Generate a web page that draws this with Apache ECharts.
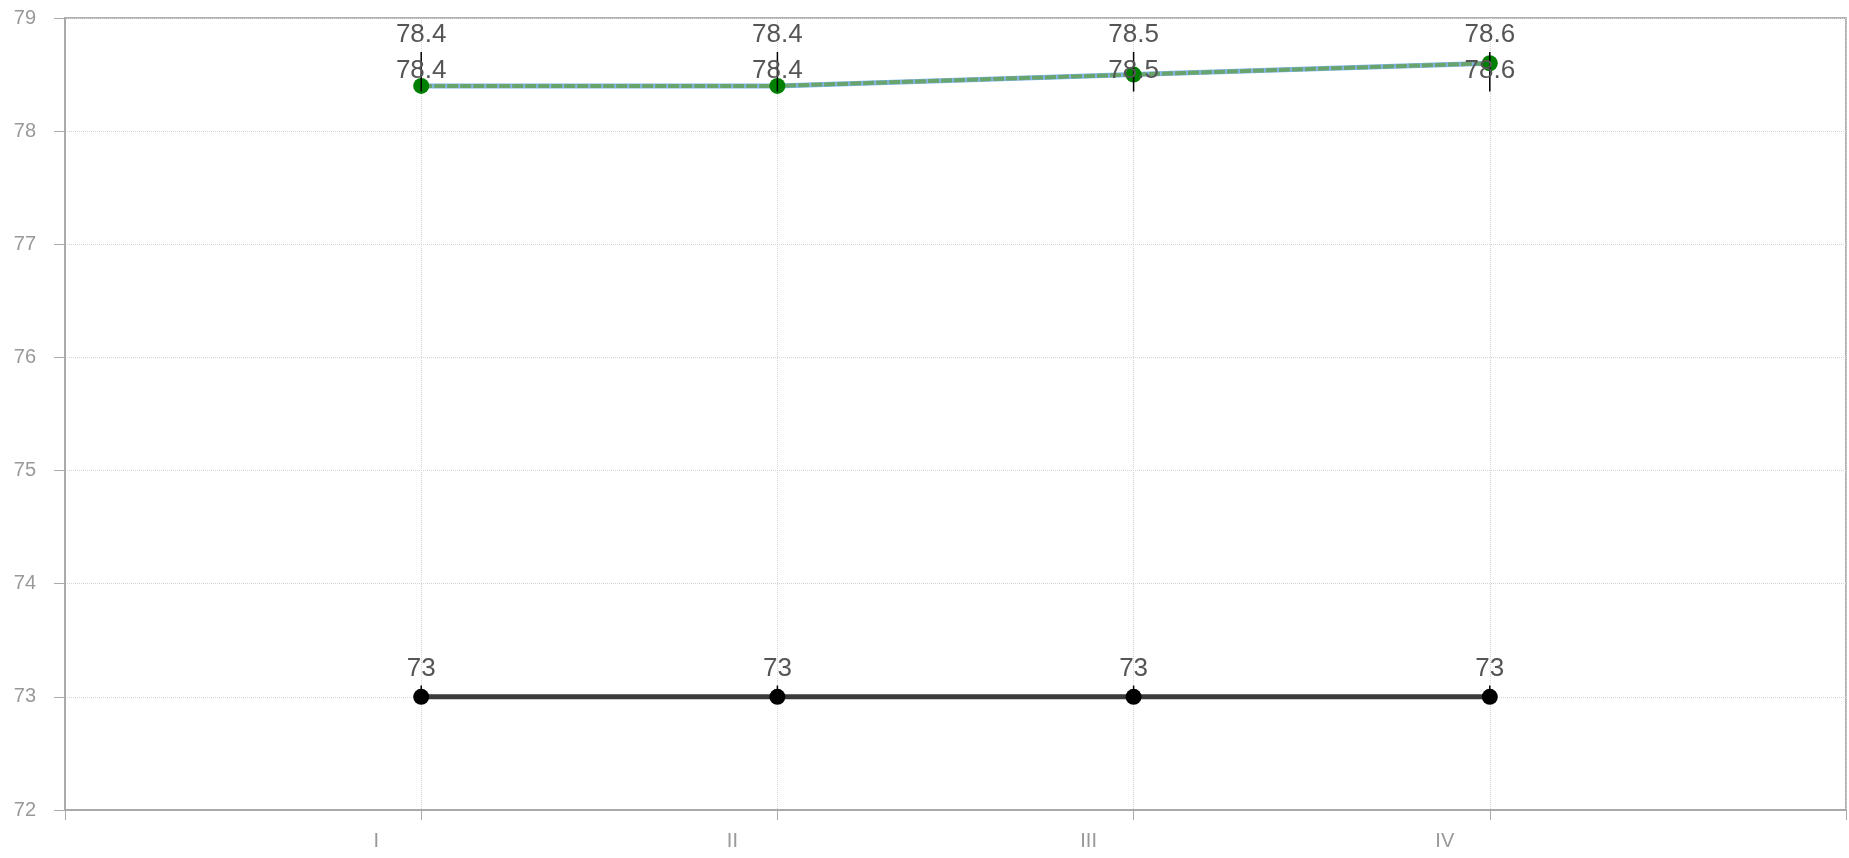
<!DOCTYPE html>
<html>
<head>
<meta charset="utf-8">
<script src="https://cdn.jsdelivr.net/npm/echarts@6/dist/echarts.min.js"></script>
<style>
html,body{margin:0;padding:0;background:#fff;}
#chart{width:1849px;height:858px;}
</style>
</head>
<body>
<div id="chart"></div>
<script>
// ---- data ----
const categories = ['', 'I', 'II', 'III', 'IV', ''];
const periods = ['I', 'II', 'III', 'IV'];
const greenValues = [78.4, 78.4, 78.5, 78.6];
const greenLow = [78.35, 78.35, 78.35, 78.35];
const greenHigh = [78.7, 78.7, 78.7, 78.7];
const blackValues = [73, 73, 73, 73];
const blackLow = [72.95, 72.95, 72.95, 72.95];
const blackHigh = [73.1, 73.1, 73.1, 73.1];
const yMin = 72, yMax = 79, yInterval = 1;

const FONT = '"Liberation Sans", Arial, Helvetica, sans-serif';

function pairs(vals) { return periods.map((p, i) => [p, vals[i]]); }
function errData(lo, hi, vals) { return periods.map((p, i) => [p, lo[i], hi[i], vals[i]]); }

function errorRender(showMid) {
  return function (params, api) {
    const x = api.value(0);
    const lo = api.coord([x, api.value(1)]);
    const hi = api.coord([x, api.value(2)]);
    const v = api.value(3);
    const children = [
      { type: 'line', shape: { x1: hi[0], y1: hi[1], x2: lo[0], y2: lo[1] },
        style: { stroke: '#000', lineWidth: 1.5 } },
      { type: 'text', x: hi[0], y: hi[1] - 4,
        style: { text: String(v), fill: '#555', font: '26px ' + FONT, align: 'center', verticalAlign: 'bottom' } }
    ];
    if (showMid) {
      children.push({ type: 'text', x: hi[0], y: (hi[1] + lo[1]) / 2 - 1,
        style: { text: String(v), fill: '#555', font: '26px ' + FONT, align: 'center', verticalAlign: 'middle' } });
    }
    return { type: 'group', children: children };
  };
}

const chart = echarts.init(document.getElementById('chart'));
chart.setOption({
  animation: false,
  backgroundColor: '#fff',
  grid: { left: 65, right: 2, top: 18, bottom: 48, show: true, borderColor: '#b0b0b0', borderWidth: 2, containLabel: false },
  xAxis: {
    type: 'category', data: categories, boundaryGap: false,
    axisLine: { lineStyle: { color: '#aaa', width: 2 } },
    axisTick: { show: true, length: 10, lineStyle: { color: '#aaa' }, alignWithLabel: true },
    axisLabel: { color: '#999', fontSize: 20, fontFamily: 'Liberation Sans', margin: 21, padding: [0, 90, 0, 0], interval: 0 },
    splitLine: { show: true, lineStyle: { color: '#d4d4d4', type: 'dotted' } }
  },
  yAxis: {
    type: 'value', min: yMin, max: yMax, interval: yInterval,
    axisLine: { show: true, lineStyle: { color: '#aaa', width: 2 } },
    axisTick: { show: true, length: 11, lineStyle: { color: '#aaa' } },
    axisLabel: { color: '#999', fontSize: 20, fontFamily: 'Liberation Sans', margin: 29 },
    splitLine: { show: true, lineStyle: { color: '#d4d4d4', type: 'dotted' } }
  },
  series: [
    { type: 'line', data: pairs(greenValues), symbol: 'none', z: 2,
      lineStyle: { color: '#80b4e6', width: 5 } },
    { type: 'line', data: pairs(greenValues), symbol: 'circle', symbolSize: 16, z: 3,
      itemStyle: { color: '#008000' },
      lineStyle: { color: '#68a46c', width: 4, type: [11, 2] } },
    { type: 'line', data: pairs(blackValues), symbol: 'circle', symbolSize: 16, z: 3,
      itemStyle: { color: '#000' },
      lineStyle: { color: '#3a3a3a', width: 5 } },
    { type: 'custom', data: errData(greenLow, greenHigh, greenValues), z: 5,
      encode: { x: 0, y: [1, 2] }, renderItem: errorRender(true) },
    { type: 'custom', data: errData(blackLow, blackHigh, blackValues), z: 5,
      encode: { x: 0, y: [1, 2] }, renderItem: errorRender(false) }
  ]
});
</script>
</body>
</html>
